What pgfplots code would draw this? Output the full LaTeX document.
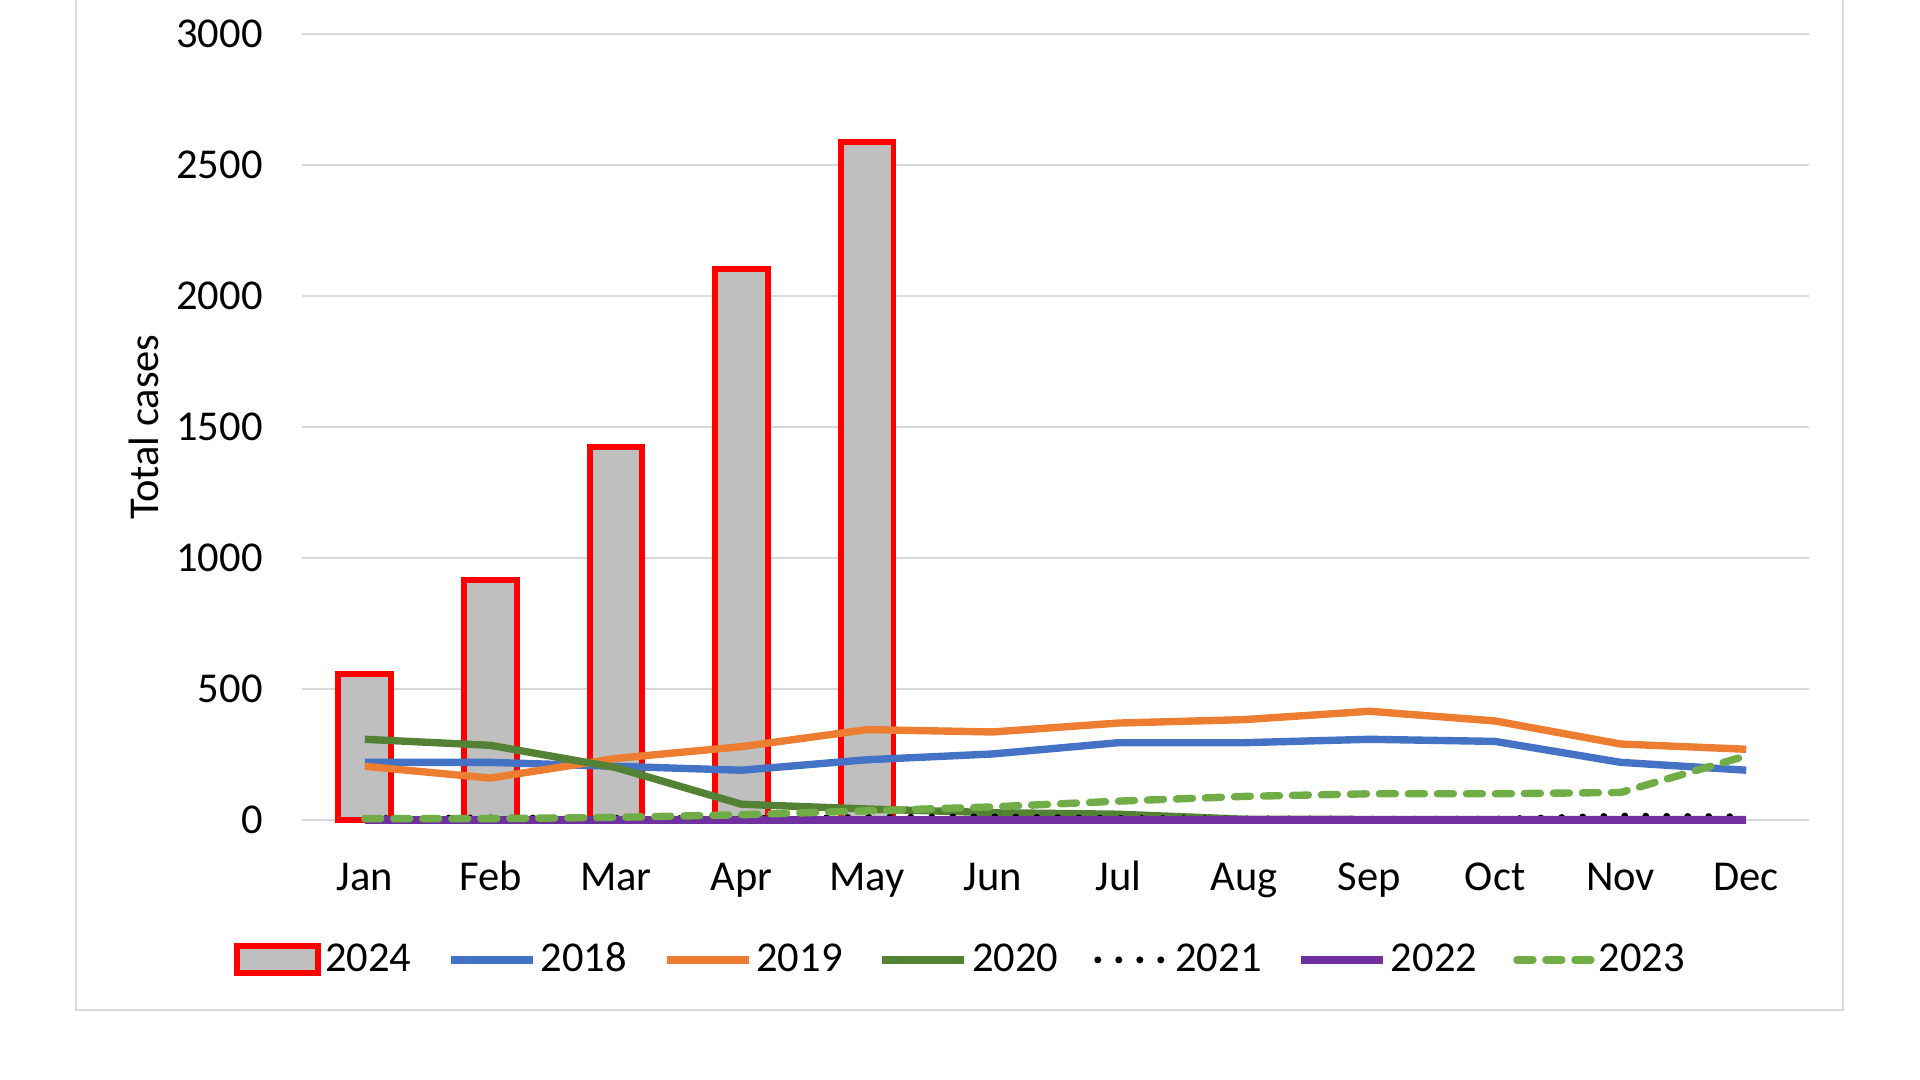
\documentclass[border=0pt]{standalone}
\usepackage{pgfplots}
\pgfplotsset{compat=1.18}
\usepackage{fontspec}
\setmainfont{Carlito}
\definecolor{c18}{HTML}{4472C4}
\definecolor{c19}{HTML}{ED7D31}
\definecolor{c20}{HTML}{548235}
\definecolor{c22}{HTML}{7030A0}
\definecolor{c23}{HTML}{70AD47}
\definecolor{barg}{HTML}{BFBFBF}
\definecolor{gridg}{HTML}{D9D9D9}
\begin{document}
\begin{tikzpicture}
\path[use as bounding box] (-30.2mm,-26mm) rectangle (161.8mm,82mm);
\draw[gridg, line width=0.2mm] (-22.6mm,95mm) -- (-22.6mm,-19mm) -- (154.1mm,-19mm) -- (154.1mm,95mm);
\begin{axis}[
  at={(0,0)}, anchor=south west,
  scale only axis, width=150.7mm, height=78.6mm,
  font=\fontsize{12.1}{14.5}\selectfont,
  xmin=-0.5, xmax=11.5, ymin=0, ymax=3000,
  xtick={0,...,11},
  xticklabels={Jan,Feb,Mar,Apr,May,Jun,Jul,Aug,Sep,Oct,Nov,Dec},
  ytick={0,500,...,3000},
  /pgf/number format/assume math mode=true,
  /pgf/number format/1000 sep={},
  axis line style={draw=none},
  major tick length=0pt,
  ymajorgrids, grid style={gridg, line width=0.2mm},
  yticklabel style={xshift=-2.7mm},
  xticklabel style={yshift=-3.1mm, text height=1.6ex, text depth=0.3ex},
  ylabel={Total cases},
  every axis y label/.style={at={(axis description cs:-0.105,0.5)}, rotate=90, anchor=center},
  clip=false,
  legend columns=7,
  legend style={draw=none, fill=none, at={(axis description cs:0.4386,-0.178)}, anchor=center,
    font=\fontsize{12.1}{14.5}\selectfont,
    /tikz/every even column/.append style={column sep=2.9mm},
    /tikz/every odd column/.append style={column sep=-0.3mm}},
  legend image code/.code={\draw[#1] (0mm,0mm) -- (8.2mm,0mm);},
]
\addplot[ybar, bar width=0.42, fill=barg, draw=red, line width=1.7pt,
  legend image code/.code={\draw[red, fill=barg, line width=1.7pt] (0mm,-1.35mm) rectangle (8.1mm,1.35mm);}]
  coordinates {(0,556) (1,916) (2,1425) (3,2103) (4,2589)};
\addlegendentry{2024}
\addplot[c18, line width=2.1pt, line join=round] coordinates {
(0,220) (1,220) (2,205) (3,190) (4,230) (5,252) (6,295) (7,295) (8,308) (9,300) (10,220) (11,190)};
\addlegendentry{2018}
\addplot[c19, line width=2.1pt, line join=round] coordinates {
(0,205) (1,160) (2,235) (3,280) (4,345) (5,336) (6,370) (7,383) (8,415) (9,378) (10,290) (11,270)};
\addlegendentry{2019}
\addplot[c20, line width=2.1pt, line join=round] coordinates {
(0,308) (1,285) (2,200) (3,60) (4,42) (5,28) (6,22) (7,3) (8,2) (9,2) (10,2) (11,2)};
\addlegendentry{2020}
\addplot[black, line width=2pt, line cap=round, dash pattern=on 0pt off 2.1mm,
  legend image code/.code={\draw[black, line width=2pt, line cap=round, dash pattern=on 0pt off 2.1mm] (0.6mm,0mm) -- (7.6mm,0mm);}] coordinates {
(0,5) (1,8) (2,6) (3,5) (4,10) (5,12) (6,6) (7,4) (8,3) (9,3) (10,15) (11,12)};
\addlegendentry{2021}
\addplot[c22, line width=2.1pt] coordinates {
(0,0) (1,0) (2,0) (3,0) (4,0) (5,0) (6,0) (7,0) (8,0) (9,0) (10,0) (11,0)};
\addlegendentry{2022}
\addplot[c23, line width=2.1pt, line cap=round, dash pattern=on 1.6mm off 1.3mm,
  legend image code/.code={\draw[c23, line width=2.1pt, line cap=round, dash pattern=on 1.6mm off 1.3mm] (0.4mm,0mm) -- (7.8mm,0mm);}] coordinates {
(0,5) (1,5) (2,10) (3,20) (4,35) (5,50) (6,72) (7,90) (8,100) (9,100) (10,105) (11,245)};
\addlegendentry{2023}
\end{axis}
\end{tikzpicture}
\end{document}
